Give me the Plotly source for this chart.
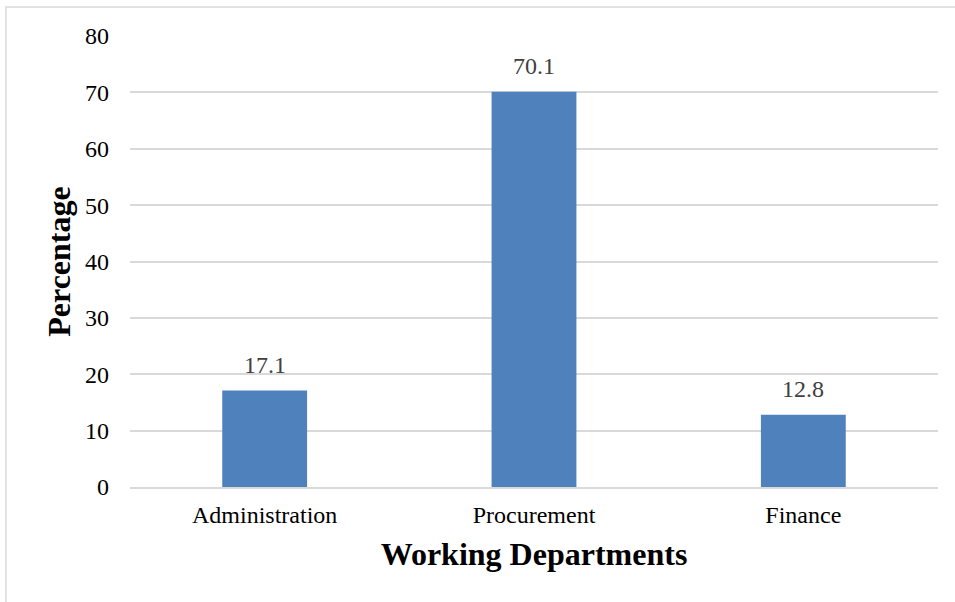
import plotly.graph_objects as go

# Share of respondents by working department
departments = ["Administration", "Procurement", "Finance"]
percentages = [17.1, 70.1, 12.8]

bar_color = "#4F81BD"
serif = "Liberation Serif"

fig = go.Figure()
fig.add_trace(go.Bar(
    x=departments,
    y=percentages,
    marker=dict(color=bar_color, line=dict(width=0)),
    width=0.315,
    hoverinfo="x+y",
))

# Value labels above each bar
for dept, val in zip(departments, percentages):
    fig.add_annotation(
        x=dept, y=val, text=f"{val:.1f}", showarrow=False,
        yanchor="bottom", yshift=11,
        font=dict(family=serif, size=24, color="#404040"),
    )

# Light outer frame around the chart area
fig.add_shape(
    type="rect", xref="paper", yref="paper",
    x0=-0.1535, x1=1.06, y0=-0.3, y1=1.0643,
    line=dict(color="#D9D9D9", width=1.5), fillcolor="rgba(0,0,0,0)",
    layer="below",
)

fig.update_layout(
    width=955, height=602,
    margin=dict(l=130, r=17, t=36, b=115),
    paper_bgcolor="white", plot_bgcolor="white",
    showlegend=False,
    bargap=0.685,
    font=dict(family=serif, size=24, color="#000000"),
    xaxis=dict(
        showgrid=False, showline=True, linecolor="#D9D9D9", linewidth=1.5,
        ticks="", tickfont=dict(family=serif, size=24, color="#000000"),
        ticklabelstandoff=5,
        title=dict(text="<b>Working Departments</b>",
                   font=dict(family=serif, size=32), standoff=16),
    ),
    yaxis=dict(
        range=[0, 80], dtick=10, showgrid=True, gridcolor="#D9D9D9",
        gridwidth=1.5, zeroline=False, showline=False, ticks="",
        tickfont=dict(family=serif, size=24, color="#000000"),
        ticklabelstandoff=20,
        title=dict(text="<b>Percentage</b>",
                   font=dict(family=serif, size=32), standoff=4),
    ),
)

fig.write_html("out.html")
